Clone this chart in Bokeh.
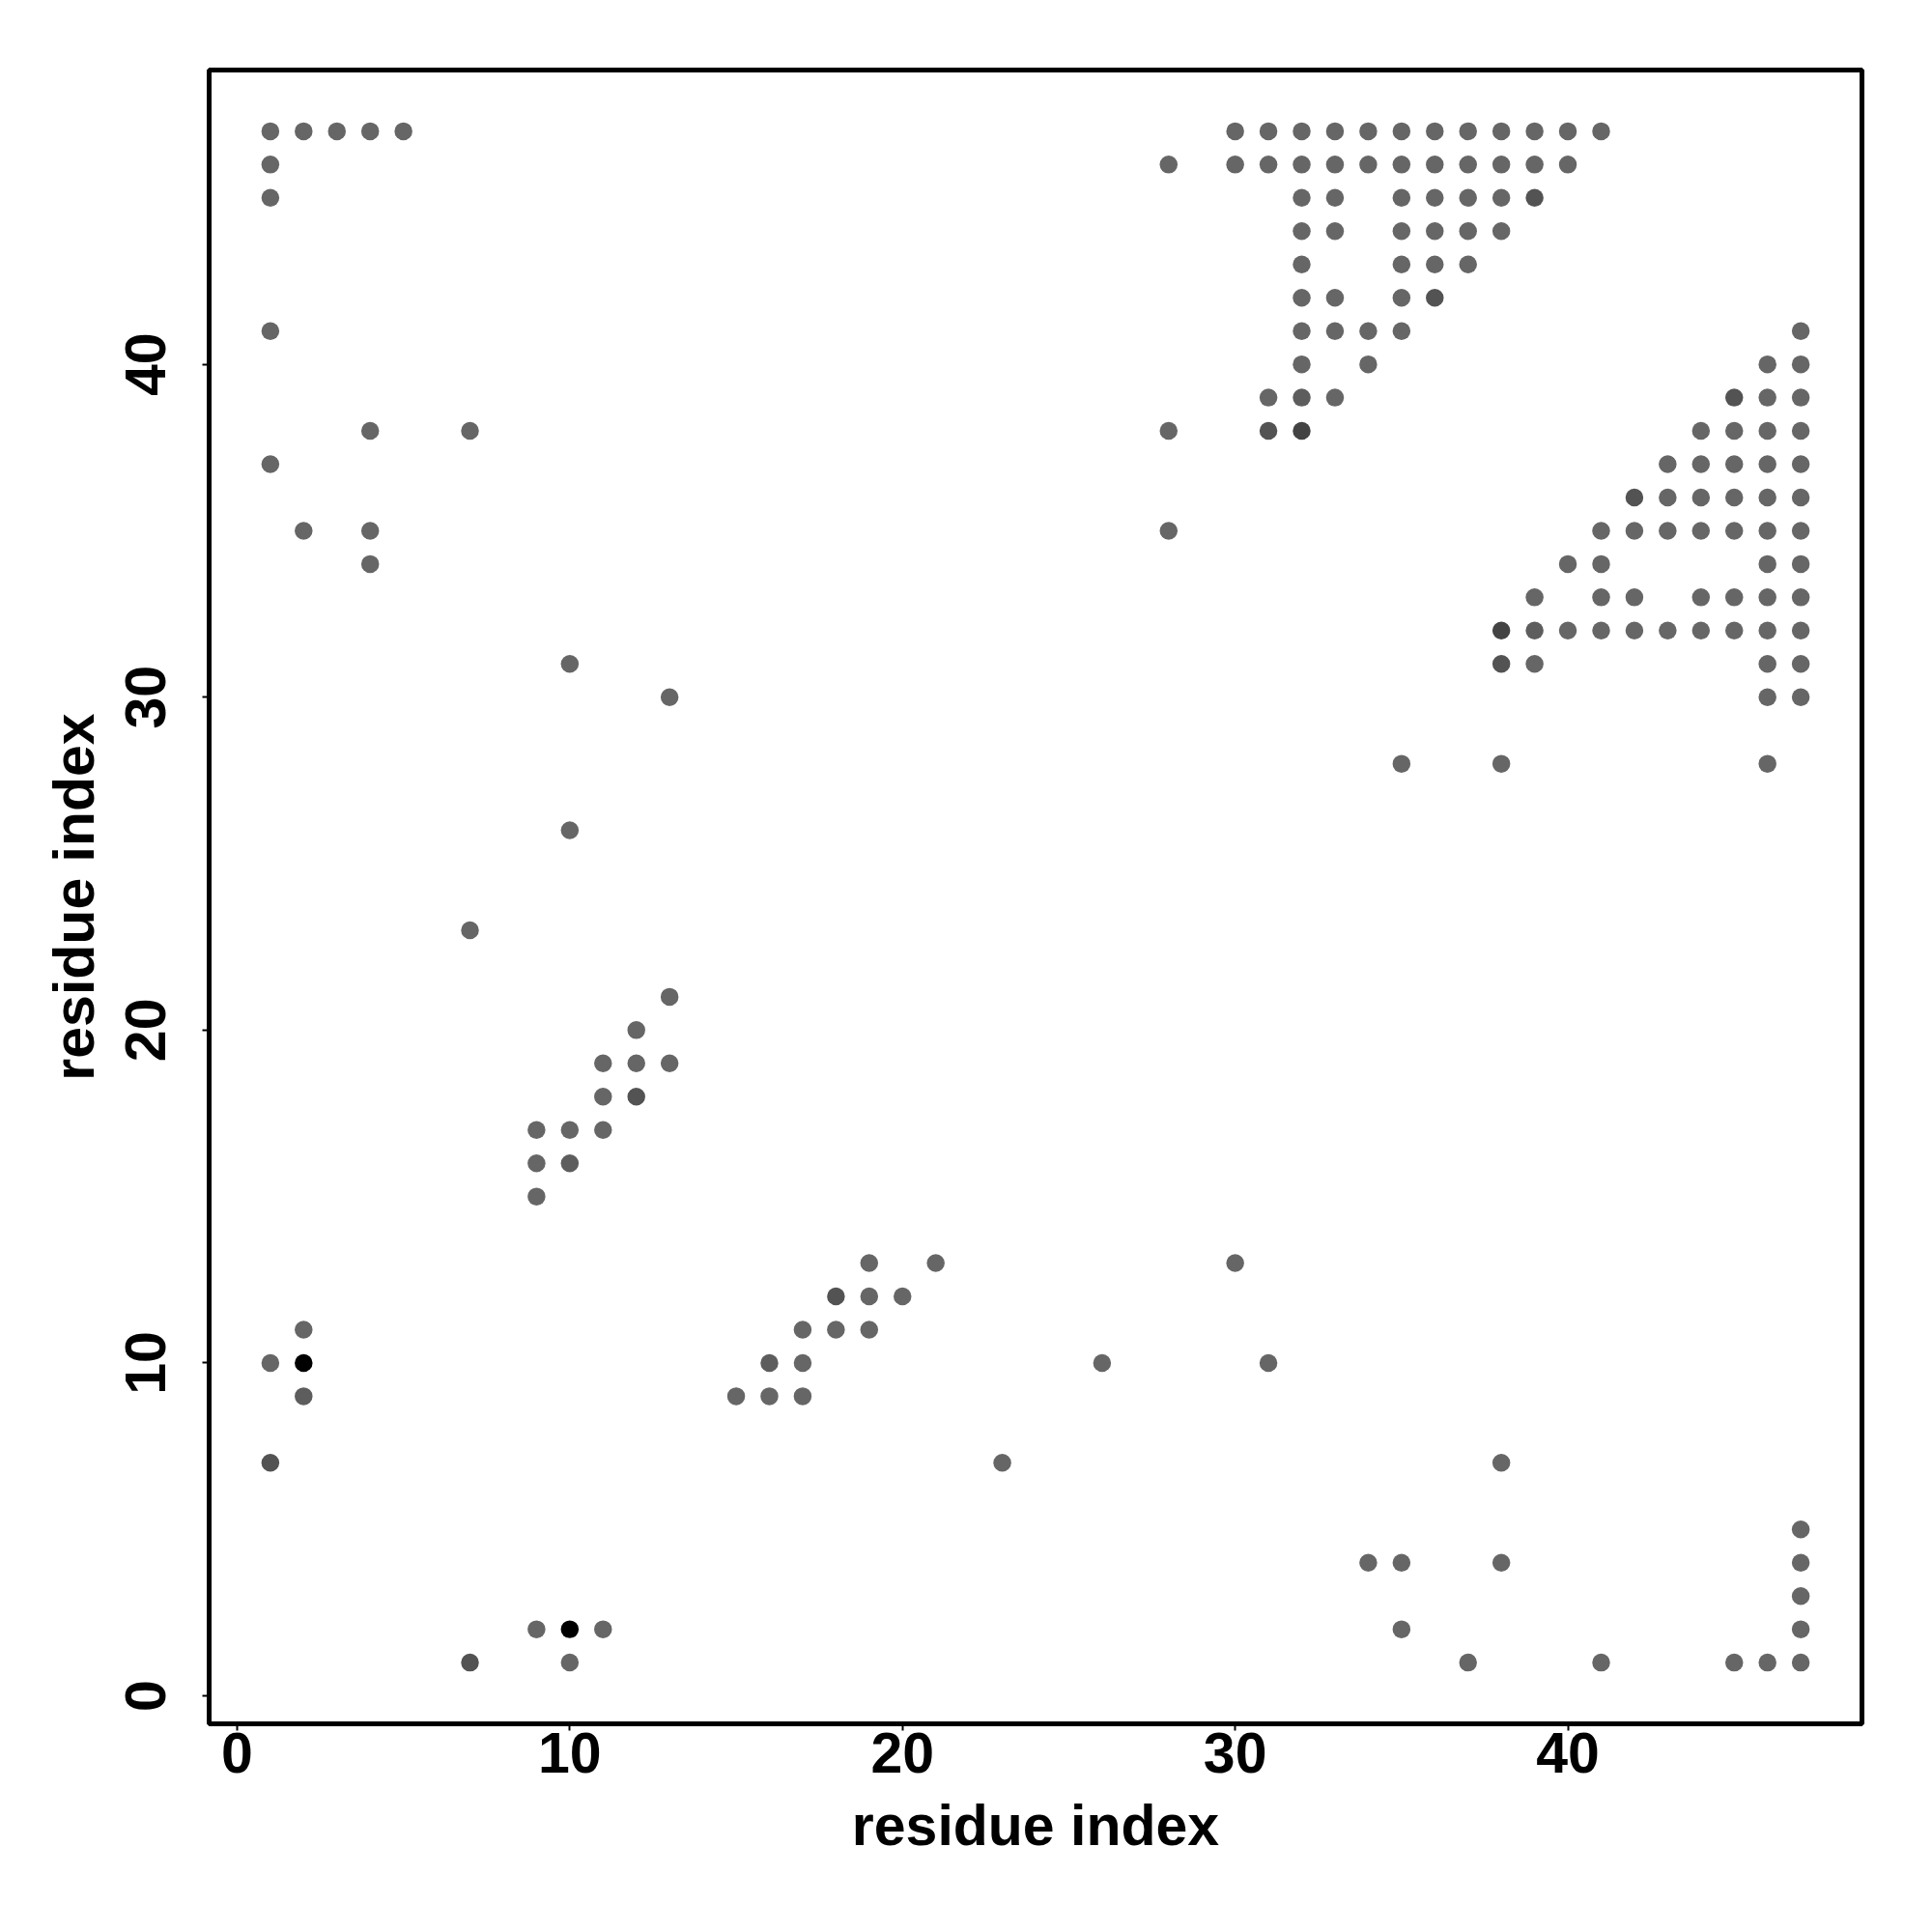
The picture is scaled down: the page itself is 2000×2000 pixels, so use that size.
from bokeh.plotting import figure
from bokeh.models import ColumnDataSource, Range1d, FixedTicker
from bokeh.embed import file_html
from bokeh.resources import INLINE

# contact map: (row residue, [column residues with a contact])
contact_rows = [
    (47, [1, 2, 3, 4, 5, 30, 31, 32, 33, 34, 35, 36, 37, 38, 39, 40, 41]),
    (46, [1, 28, 30, 31, 32, 33, 34, 35, 36, 37, 38, 39, 40]),
    (45, [1, 32, 33, 35, 36, 37, 38, 39]),
    (44, [32, 33, 35, 36, 37, 38]),
    (43, [32, 35, 36, 37]),
    (42, [32, 33, 35, 36]),
    (41, [1, 32, 33, 34, 35, 47]),
    (40, [32, 34, 46, 47]),
    (39, [31, 32, 33, 45, 46, 47]),
    (38, [4, 7, 28, 31, 32, 44, 45, 46, 47]),
    (37, [1, 43, 44, 45, 46, 47]),
    (36, [42, 43, 44, 45, 46, 47]),
    (35, [2, 4, 28, 41, 42, 43, 44, 45, 46, 47]),
    (34, [4, 40, 41, 46, 47]),
    (33, [39, 41, 42, 44, 45, 46, 47]),
    (32, [38, 39, 40, 41, 42, 43, 44, 45, 46, 47]),
    (31, [10, 38, 39, 46, 47]),
    (30, [13, 46, 47]),
    (28, [35, 38, 46]),
    (26, [10]),
    (23, [7]),
    (21, [13]),
    (20, [12]),
    (19, [11, 12, 13]),
    (18, [11, 12]),
    (17, [9, 10, 11]),
    (16, [9, 10]),
    (15, [9]),
    (13, [19, 21, 30]),
    (12, [18, 19, 20]),
    (11, [2, 17, 18, 19]),
    (10, [1, 2, 16, 17, 26, 31]),
    (9, [2, 15, 16, 17]),
    (7, [1, 23, 38]),
    (5, [47]),
    (4, [34, 35, 38, 47]),
    (3, [47]),
    (2, [9, 10, 11, 35, 47]),
    (1, [7, 10, 37, 41, 45, 46, 47]),
]

# points drawn darker (overlapping contacts): (x, y) -> level
overlap_x = [2, 10, 32, 38, 31, 38, 39, 45, 36, 42, 12, 18, 1, 7, 32, 39, 10, 16, 2]
overlap_y = [10, 2, 38, 32, 38, 31, 45, 39, 42, 36, 18, 12, 7, 1, 39, 32, 16, 10, 9]
overlap_level = [5, 5, 4, 4, 3, 3, 3, 3, 3, 3, 3, 3, 3, 3, 2, 2, 2, 2, 2]

shade_colors = {1: "#666666", 2: "#5d5d5d", 3: "#535353", 4: "#434343", 5: "#000000"}

tick_values = [0, 10, 20, 30, 40]
axis_title = "residue index"

levels = {(ox, oy): lv for ox, oy, lv in zip(overlap_x, overlap_y, overlap_level)}
xs, ys, cols = [], [], []
for yv, row in contact_rows:
    for xv in row:
        xs.append(xv)
        ys.append(yv)
        cols.append(shade_colors[levels.get((xv, yv), 1)])
src = ColumnDataSource(data=dict(x=xs, y=ys, color=cols))

p = figure(frame_width=1711, frame_height=1712,
           x_range=Range1d(-0.84, 48.84), y_range=Range1d(-0.84, 48.84),
           output_backend="svg", toolbar_location=None,
           min_border_left=216, min_border_right=57,
           min_border_top=72, min_border_bottom=200,
           background_fill_color="white", border_fill_color="white")

p.scatter("x", "y", source=src, size=18.5, color="color", line_color=None)

p.grid.visible = False
p.outline_line_color = "black"
p.outline_line_width = 5
p.outline_line_alpha = 1.0

for ax in (p.xaxis[0], p.yaxis[0]):
    ax.ticker = FixedTicker(ticks=tick_values)
    ax.axis_line_color = None
    ax.major_tick_in = 0
    ax.major_tick_out = 7
    ax.major_tick_line_width = 2
    ax.major_tick_line_color = "black"
    ax.minor_tick_line_color = None
    ax.major_label_text_font = "Liberation Sans"
    ax.major_label_text_font_style = "bold"
    ax.major_label_text_font_size = "59px"
    ax.major_label_text_color = "black"
    ax.axis_label = axis_title
    ax.axis_label_text_font = "Liberation Sans"
    ax.axis_label_text_font_style = "bold"
    ax.axis_label_text_font_size = "59px"
    ax.axis_label_text_color = "black"

p.xaxis[0].major_label_standoff = 2
p.xaxis[0].axis_label_standoff = 19
p.yaxis[0].major_label_orientation = "vertical"
p.yaxis[0].major_label_standoff = 38
p.yaxis[0].axis_label_standoff = 18

open("out.html", "w").write(file_html(p, INLINE))
